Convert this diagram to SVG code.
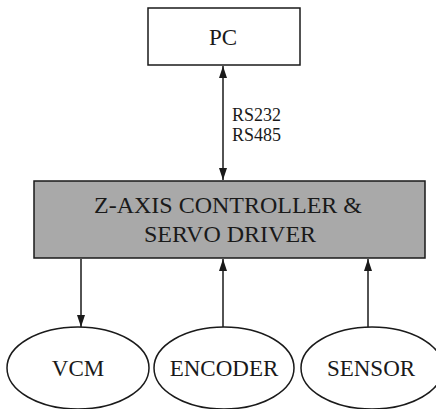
<svg xmlns="http://www.w3.org/2000/svg" width="436" height="409" viewBox="0 0 436 409">
<defs>
<style>
.t{font-family:"Liberation Serif","Times New Roman",serif;fill:#1a1a1a;text-anchor:middle}
.box{fill:#fff;stroke:#1a1a1a;stroke-width:1.5}
.ell{fill:#fff;stroke:#1a1a1a;stroke-width:1.5}
.ln{stroke:#1a1a1a;stroke-width:1.5;fill:none}
</style>
<marker id="ah" viewBox="0 0 10 10" refX="10" refY="5" markerWidth="8" markerHeight="8" markerUnits="userSpaceOnUse" orient="auto-start-reverse">
<path d="M0,0 L10,5 L0,10 z" fill="#1a1a1a"/>
</marker>
<marker id="ah2" viewBox="0 0 12 8" refX="12" refY="4" markerWidth="12" markerHeight="8" markerUnits="userSpaceOnUse" orient="auto-start-reverse">
<path d="M0,0 L12,4 L0,8 z" fill="#1a1a1a"/>
</marker>
</defs>
<rect width="436" height="409" fill="#fff"/>
<g id="connectors">
<line class="ln" x1="223" y1="66" x2="223" y2="180" marker-start="url(#ah2)" marker-end="url(#ah2)"/>
<line class="ln" x1="81" y1="259" x2="81" y2="327" marker-end="url(#ah2)"/>
<line class="ln" x1="223" y1="327" x2="223" y2="259" marker-end="url(#ah2)"/>
<line class="ln" x1="368" y1="327" x2="368" y2="259" marker-end="url(#ah2)"/>
<text class="t" x="232" y="121" font-size="18" text-anchor="start" style="text-anchor:start">RS232</text>
<text class="t" x="232" y="141" font-size="18" style="text-anchor:start">RS485</text>
</g>
<g id="pc">
<rect class="box" x="148" y="8" width="152" height="57"/>
<text class="t" x="223" y="45" font-size="23">PC</text>
</g>
<g id="controller">
<rect x="34" y="181" width="391" height="77" fill="#a9a9a9" stroke="#1a1a1a" stroke-width="1.5"/>
<text class="t" x="228" y="213" font-size="24">Z-AXIS CONTROLLER &amp;</text>
<text class="t" x="230" y="242" font-size="24">SERVO DRIVER</text>
</g>
<g id="vcm">
<ellipse class="ell" cx="78" cy="368" rx="71" ry="41"/>
<text class="t" x="78" y="376" font-size="23">VCM</text>
</g>
<g id="encoder">
<ellipse class="ell" cx="224" cy="368" rx="70" ry="41"/>
<text class="t" x="224" y="376" font-size="23">ENCODER</text>
</g>
<g id="sensor">
<ellipse class="ell" cx="372" cy="368" rx="71" ry="41"/>
<text class="t" x="371" y="376" font-size="23">SENSOR</text>
</g>
</svg>
